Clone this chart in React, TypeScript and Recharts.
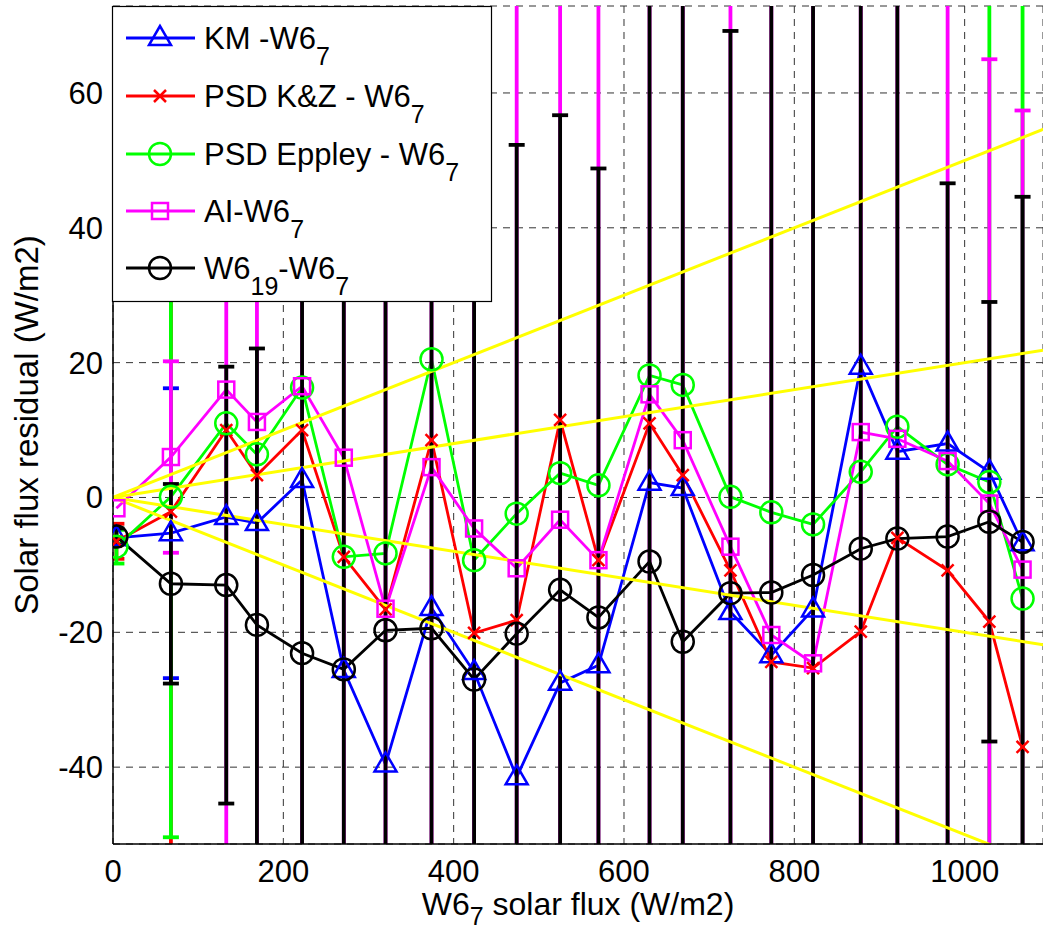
import React from "react";
import { LineChart, Line, XAxis, YAxis, CartesianGrid, ErrorBar, Label } from "recharts";

const FONT = '"Liberation Sans", Arial, Helvetica, sans-serif';

// bin centres (W6_7 solar flux, W/m2)
const xs = [4, 68, 133, 169, 222, 271, 320, 374, 424, 474, 525, 570, 630, 669, 725, 773, 822, 878, 921, 980, 1029, 1068];

// residuals per instrument
const km = [-6, -5.3, -2.9, -3.8, 2.6, -25.6, -39.6, -16.4, -25.9, -41.5, -27.5, -24.9, 2.2, 1.4, -17, -23.4, -16.6, 19.4, 6.8, 8, 3.8, -6.8];
const kz = [-6.5, -2.1, 10, 3.3, 10, -8.8, -16.6, 8.5, -20.1, -18.2, 11.5, -9.3, 11, 3.3, -10.8, -24.4, -25.3, -19.9, -6, -10.8, -18.4, -37];
const ep = [-7.3, 0.1, 11, 6.4, 16.3, -8.8, -8.3, 20.5, -9.3, -2.4, 3.6, 1.8, 18.1, 16.7, 0.1, -2.2, -4, 3.8, 10.5, 4.9, 2.3, -15];
const ai = [-1.6, 6, 16, 11.2, 16.5, 5.9, -16.5, 4.5, -4.6, -10.5, -3.3, -9.3, 15.3, 8.5, -7.3, -20.4, -24.6, 9.7, 8.7, 5.4, -0.9, -10.7];
const w19 = [-5.8, -12.8, -13, -18.9, -23.1, -25.5, -19.7, -19.4, -27, -20.2, -13.7, -17.8, -9.5, -21.4, -14.2, -14.1, -11.5, -7.6, -6.1, -5.8, -3.6, -6.6];

// error bar half-lengths (0 = none drawn)
const kmErr = [0, 21.5, 0, 0, 0, 0, 0, 0, 0, 0, 0, 0, 0, 0, 0, 0, 0, 0, 0, 0, 0, 0];
const kzErr = [2.6, 60, 0, 0, 0, 0, 0, 0, 0, 0, 0, 0, 0, 0, 0, 0, 0, 0, 0, 0, 0, 0];
const epErr: (number | number[])[] = [2.5, [50.5, 90], 0, 0, 0, 0, 0, 0, 0, 0, 0, 0, 0, 0, 0, 0, 0, 0, 0, 0, 90, 100];
const aiErr = [0, 14.2, 80, 80, 110, 110, 110, 110, 110, 90, 90, 90, 110, 110, 90, 110, 110, 110, 110, 90, 65.9, 68.1];
const w19Err = [1.2, 14.8, 32.4, 41, 110, 110, 110, 110, 110, 72.5, 70.4, 66.6, 110, 110, 83.4, 110, 110, 110, 110, 52.4, 32.6, 51.2];

// +-2% and +-5% guide lines
const guideX = [0, 1100];
const up5 = [0, 55];
const up2 = [0, 22];
const dn2 = [0, -22];
const dn5 = [0, -55];

const xTicks = [0, 200, 400, 600, 800, 1000];
const yTicks = [-40, -20, 0, 20, 40, 60];

const data = xs.map((x, i) => ({
  x,
  km: km[i], kmE: kmErr[i],
  kz: kz[i], kzE: kzErr[i],
  ep: ep[i], epE: epErr[i],
  ai: ai[i], aiE: aiErr[i],
  w19: w19[i], w19E: w19Err[i],
}));

const guide = (ys: number[]) => guideX.map((x, i) => ({ x, g: ys[i] }));

function Marker({ shape, color, cx, cy }: { shape: string; color: string; cx: number; cy: number }) {
  const common = { fill: "none", stroke: color, strokeWidth: 2.5 };
  if (shape === "tri")
    return <polygon points={`${cx},${cy - 12} ${cx - 11},${cy + 7} ${cx + 11},${cy + 7}`} {...common} />;
  if (shape === "x")
    return (
      <path d={`M${cx - 6},${cy - 6}L${cx + 6},${cy + 6}M${cx - 6},${cy + 6}L${cx + 6},${cy - 6}`} {...common} />
    );
  if (shape === "sq") return <rect x={cx - 8} y={cy - 8} width={16} height={16} {...common} />;
  return <circle cx={cx} cy={cy} r={11} {...common} />;
}

const dot = (shape: string, color: string) => (p: any) => {
  if (p.cx == null || p.cy == null) return <g key={p.index} />;
  return (
    <g key={p.index}>
      <Marker shape={shape} color={color} cx={p.cx} cy={p.cy} />
    </g>
  );
};

const series = [
  { key: "km", color: "#0000ff", shape: "tri", name: "KM -W6", sub: "7", pre: "" },
  { key: "kz", color: "#ff0000", shape: "x", name: "PSD K&Z - W6", sub: "7", pre: "" },
  { key: "ep", color: "#00ff00", shape: "circ", name: "PSD Eppley - W6", sub: "7", pre: "" },
  { key: "ai", color: "#ff00ff", shape: "sq", name: "AI-W6", sub: "7", pre: "" },
  { key: "w19", color: "#000000", shape: "circ", name: "-W6", sub: "7", pre: "W6" },
];

function LegendBox() {
  const rows = [38, 96, 154, 211, 268];
  return (
    <svg width={1043} height={932} style={{ position: "absolute", left: 0, top: 0, pointerEvents: "none" }}>
      <defs>
        <clipPath id="plotClip" clipPathUnits="userSpaceOnUse">
          <rect x={113} y={6} width={930} height={838} />
        </clipPath>
      </defs>
      <rect x={112.5} y={6.5} width={379} height={295} fill="#fff" stroke="#000" strokeWidth={1.2} />
      {series.map((s, i) => {
        const y = rows[i];
        return (
          <g key={s.key}>
            <line x1={126} x2={195} y1={y} y2={y} stroke={s.color} strokeWidth={2.8} />
            <Marker shape={s.shape} color={s.color} cx={160} cy={y} />
            <text x={204} y={y + 11} fontFamily={FONT} fontSize={31} fill="#000">
              {s.pre ? (
                <>
                  <tspan>{s.pre}</tspan>
                  <tspan fontSize={25} dy={16}>19</tspan>
                  <tspan dy={-16}>{s.name}</tspan>
                </>
              ) : (
                <tspan>{s.name}</tspan>
              )}
              <tspan fontSize={25} dy={16}>{s.sub}</tspan>
            </text>
          </g>
        );
      })}
    </svg>
  );
}

export default function App() {
  const tickStyle = { fontSize: 31, fill: "#000", fontFamily: FONT };
  return (
    <div style={{ position: "absolute", left: 0, top: 0, width: 1043, height: 932, background: "#fff" }}>
      <style>{`.recharts-surface [class*="errorBar"] { clip-path: url(#plotClip); }`}</style>
      <LineChart width={1043} height={932} data={data} margin={{ top: 6, right: 0, bottom: 0, left: 0 }}>
        <CartesianGrid stroke="#333" strokeDasharray="7 6" strokeWidth={1} />
        <XAxis
          dataKey="x"
          type="number"
          domain={[0, 1092]}
          ticks={xTicks}
          allowDataOverflow
          height={88}
          tickSize={0}
          tickMargin={16}
          tick={tickStyle}
          axisLine={{ stroke: "#000", strokeWidth: 1.5 }}
        >
          <Label
            content={({ viewBox }: any) => (
              <text
                x={viewBox.x + viewBox.width / 2}
                y={viewBox.y + 71}
                textAnchor="middle"
                fontFamily={FONT}
                fontSize={32}
                fill="#000"
              >
                <tspan>W6</tspan>
                <tspan fontSize={25} dy={10}>7</tspan>
                <tspan dy={-10}> solar flux (W/m2)</tspan>
              </text>
            )}
          />
        </XAxis>
        <XAxis
          xAxisId="top"
          orientation="top"
          type="number"
          domain={[0, 1092]}
          height={0}
          tick={false}
          tickLine={false}
          axisLine={{ stroke: "#000", strokeWidth: 1.5 }}
        />
        <YAxis
          type="number"
          domain={[-51.4, 72.9]}
          ticks={yTicks}
          allowDataOverflow
          width={113}
          tickSize={0}
          tickMargin={10}
          tick={tickStyle}
          axisLine={{ stroke: "#000", strokeWidth: 1.5 }}
        >
          <Label
            content={({ viewBox }: any) => (
              <text
                x={38}
                y={viewBox.y + viewBox.height / 2}
                transform={`rotate(-90 38 ${viewBox.y + viewBox.height / 2})`}
                textAnchor="middle"
                fontFamily={FONT}
                fontSize={33}
                fill="#000"
              >
                Solar flux residual (W/m2)
              </text>
            )}
          />
        </YAxis>
        {series.map((s) => (
          <Line
            key={s.key}
            dataKey={s.key}
            stroke={s.color}
            strokeWidth={2.8}
            dot={dot(s.shape, s.color)}
            activeDot={false}
            isAnimationActive={false}
          >
            <ErrorBar
              dataKey={s.key + "E"}
              direction="y"
              width={8}
              stroke={s.color}
              strokeWidth={3.8}
              isAnimationActive={false}
            />
          </Line>
        ))}
        {[up5, up2, dn2, dn5].map((ys, i) => (
          <Line
            key={"g" + i}
            data={guide(ys)}
            dataKey="g"
            stroke="#ffff00"
            strokeWidth={3}
            dot={false}
            activeDot={false}
            isAnimationActive={false}
          />
        ))}
      </LineChart>
      <LegendBox />
    </div>
  );
}
